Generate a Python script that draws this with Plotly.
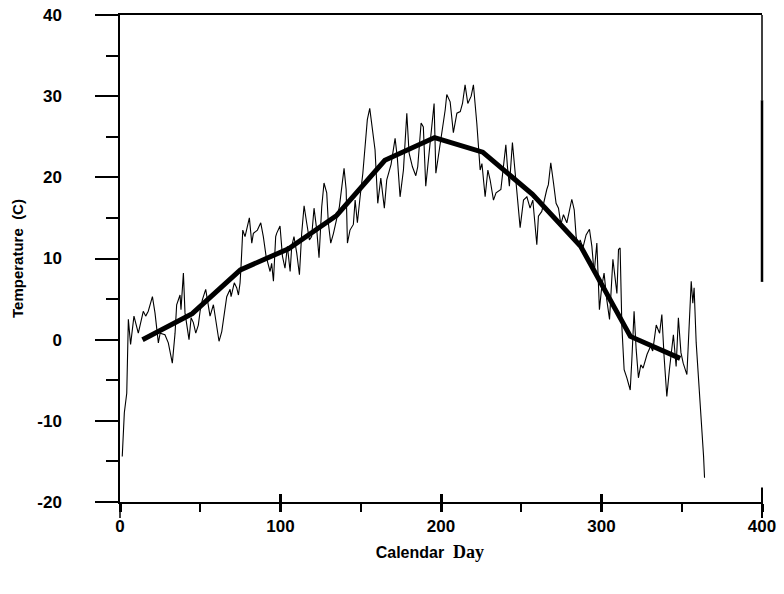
import plotly.graph_objects as go

# Daily temperature
daily_day = [1.4, 2.7, 4.2, 5.2, 6.6, 8.7, 11.4, 14.5, 16, 17.6, 20.2, 21.8, 23.9, 25, 28, 30.1, 32.6, 34.3,
             35.3, 37.4, 38, 39.5, 40.5, 43, 44.3, 45.7, 47.2, 48.8, 49.9, 51.3, 53.4, 55, 56.1, 58.2, 61.7,
             63.4, 65, 66.5, 68.6, 69.2, 71.2, 72.7, 73.8, 74.8, 75.4, 76.5, 77.9, 80.6, 82.1, 83.1, 85.6,
             87.7, 89.3, 91, 93.5, 94.5, 95.6, 97, 97.6, 99.7, 101.2, 102.8, 104.3, 106, 107, 108.4, 110.1,
             111.8, 113.2, 114.7, 116.3, 118, 119.4, 120.9, 122.6, 124, 125.7, 127.1, 128.8, 129.8, 131.3,
             133, 136.7, 139.6, 140.9, 141.7, 143.3, 145.4, 146.5, 147.9, 149.6, 151.3, 152.7, 154.1, 155.6,
             157.9, 158.9, 160.6, 162.5, 164.7, 166.2, 168.9, 171.4, 172.8, 174.5, 176.6, 178.7, 180.1,
             182.2, 184.3, 185.5, 187.6, 189, 190.5, 192.6, 195.7, 196.8, 198.4, 200.5, 202.6, 203.6, 205.7,
             207.7, 209.9, 212, 213.4, 215, 216.7, 218.8, 220.2, 222.3, 224.4, 225.5, 227.5, 229.2, 230.6,
             232.7, 234.3, 237.3, 240.4, 241.4, 242.6, 244.5, 246.2, 247.6, 249.3, 251.4, 253.5, 255.5,
             257.2, 259.7, 260.7, 262.8, 264.3, 265.9, 266.9, 268.4, 270.1, 271.7, 273.2, 274.7, 276.3,
             278.4, 281.5, 283, 284.2, 285.6, 286.7, 288.4, 290.4, 292.5, 294, 295.4, 297.1, 298.7, 300.2,
             301.6, 303.3, 305, 307.1, 308.5, 309.6, 310.6, 311.6, 312.7, 314.1, 315.8, 317.9, 318.9, 320.3,
             321.6, 323, 324.5, 325.9, 328.4, 330.6, 331.9, 334.1, 336.2, 337.6, 339, 340.7, 342.3, 344.8,
             346.5, 347.9, 349.5, 350.9, 353.2, 355.9, 356.9, 357.7, 359, 360.4, 361.9, 363.6, 364.2]
daily_temp = [-14.4, -9.0, -6.6, 2.5, -0.6, 2.9, 0.8, 3.5, 2.9, 3.5, 5.3, 3.3, -0.4, 0.8, 0.6, -0.4, -2.9, 0.8,
              4.3, 5.5, 3.7, 8.2, 3.3, 0.0, 2.7, 2.1, 0.8, 1.8, 3.5, 4.9, 6.2, 4.3, 2.9, 4.3, -0.2,
              1.0, 3.1, 5.3, 6.2, 5.3, 7.0, 6.4, 5.5, 7.0, 9.0, 13.5, 12.7, 15.0, 11.9, 13.1, 13.5,
              14.4, 12.7, 10.3, 8.4, 9.4, 7.2, 12.7, 13.1, 14.0, 10.3, 8.8, 11.5, 8.4, 11.5, 12.7, 10.7,
              8.0, 13.1, 16.5, 14.4, 12.3, 12.7, 16.2, 13.5, 10.1, 16.4, 19.3, 18.1, 14.4, 11.9,
              13.1, 16.4, 21.1, 18.5, 11.9, 13.5, 14.2, 17.2, 14.4, 17.6, 20.5, 23.8, 27.1, 28.5,
              24.6, 23.4, 16.8, 19.9, 16.2, 19.7, 21.6, 24.8, 22.4, 17.6, 20.9, 27.9, 23.0,
              21.3, 20.2, 21.3, 26.7, 26.2, 18.9, 23.4, 29.1, 20.5, 22.6, 25.9, 28.3, 30.2, 29.3,
              25.5, 27.9, 28.1, 29.1, 31.4, 29.1, 30.0, 31.4, 26.7, 20.9, 21.7, 17.6, 20.9, 19.7,
              17.2, 18.1, 18.5, 24.0, 21.3, 18.9, 24.3, 20.5, 18.1, 13.8, 17.2, 17.6, 16.2,
              17.2, 11.7, 15.2, 15.8, 17.2, 18.5, 19.1, 21.8, 19.3, 16.8, 16.2, 14.2, 15.4,
              14.4, 17.3, 16.0, 12.7, 11.5, 12.3, 11.3, 12.9, 13.6, 11.5, 8.2, 11.9, 3.7, 6.6,
              8.2, 4.9, 2.5, 9.9, 7.3, 5.7, 11.1, 11.3, 1.6, -3.7, -4.7, -6.2, -2.5, 3.5,
              -1.2, -4.7, -3.1, -3.5, -1.8, -0.8, -1.4, 1.8, 0.8, 3.1, -2.1, -7.0, -3.7, 0.6,
              -3.3, 2.7, -1.6, -2.9, -4.3, 7.2, 4.5, 6.4, -0.4, -4.3, -9.0, -14.4, -17.0]

# Monthly mean temperature
month_day = [14, 45, 75, 105, 135, 165, 196, 226, 257, 287, 318, 349]
month_temp = [0.0, 3.2, 8.6, 11.2, 15.3, 22.1, 24.9, 23.1, 17.9, 11.5, 0.4, -2.3]

x_ticks = [0, 100, 200, 300, 400]
y_ticks = [-20, -10, 0, 10, 20, 30, 40]

FONT = "Liberation Sans"

fig = go.Figure()
fig.add_trace(go.Scatter(x=daily_day, y=daily_temp, mode="lines",
                         line=dict(color="black", width=1.1), showlegend=False))
fig.add_trace(go.Scatter(x=month_day, y=month_temp, mode="lines",
                         line=dict(color="black", width=5), showlegend=False))
fig.add_trace(go.Scatter(x=[None], y=[None], xaxis="x2", yaxis="y", showlegend=False))

fig.update_layout(
    width=784, height=594,
    margin=dict(l=120, r=22, t=15, b=92),
    paper_bgcolor="white", plot_bgcolor="white",
    font=dict(family=FONT, color="black"),
    xaxis=dict(
        range=[0, 400], tickvals=x_ticks, ticktext=[str(v) for v in x_ticks],
        showgrid=False, zeroline=False, automargin=False,
        showline=True, linecolor="black", linewidth=2, mirror=True,
        ticks="outside", ticklen=8, tickwidth=2.5, tickcolor="black",
        minor=dict(tickvals=[50, 150, 250, 350], ticks="outside", ticklen=8, tickwidth=1.5, tickcolor="black"),
        tickfont=dict(family=FONT, size=17, weight="bold"),
        title=dict(text="Calendar  <span style='font-family:Liberation Serif;font-size:18px'>Day</span>"
                        "&nbsp;&nbsp;&nbsp;&nbsp;&nbsp;",
                   font=dict(family=FONT, size=16, weight="bold"), standoff=11),
    ),
    xaxis2=dict(
        overlaying="x", matches="x", anchor="y", side="bottom", automargin=False,
        range=[0, 400], tickvals=[100, 200, 300], ticks="inside", ticklen=8, tickwidth=2.5,
        tickcolor="black", showticklabels=False, showgrid=False, zeroline=False, showline=False,
    ),
    yaxis=dict(
        range=[-20, 40], tickvals=y_ticks, ticktext=[str(v) for v in y_ticks],
        showgrid=False, zeroline=False, automargin=False,
        showline=True, linecolor="black", linewidth=1.5,
        ticks="outside", ticklen=23, tickwidth=1.5, tickcolor="black",
        minor=dict(dtick=5, ticks="outside", ticklen=12, tickwidth=1.5, tickcolor="black"),
        tickfont=dict(family=FONT, size=17, weight="bold"),
        ticklabelstandoff=30,
        title=dict(text="Temperature  (C)", font=dict(family=FONT, size=15, weight="bold"), standoff=10),
    ),
    shapes=[
        dict(type="line", xref="paper", yref="paper", x0=1, x1=1, y0=0.825, y1=1,
             line=dict(color="black", width=1.5)),
        dict(type="line", xref="paper", yref="paper", x0=1, x1=1, y0=0.452, y1=0.825,
             line=dict(color="black", width=2.5)),
        dict(type="line", xref="paper", yref="paper", x0=1, x1=1, y0=-0.033, y1=0.03,
             line=dict(color="black", width=2)),
        dict(type="line", xref="paper", yref="paper", x0=0, x1=0, y0=-0.033, y1=0,
             line=dict(color="black", width=1.5)),
    ],
)

fig.write_html("out.html")
